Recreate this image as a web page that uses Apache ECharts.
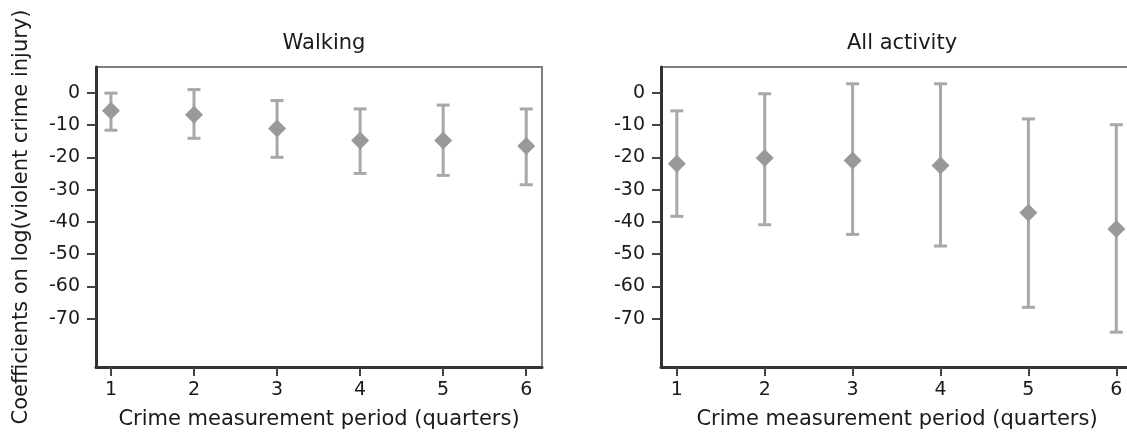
<!DOCTYPE html>
<html>
<head>
<meta charset="utf-8">
<script src="https://cdn.jsdelivr.net/npm/echarts@6/dist/echarts.min.js"></script>
<style>
html,body{margin:0;padding:0;background:#fff;}
#chart{width:1127px;height:436px;}
</style>
</head>
<body>
<div id="chart"></div>
<script>
// ---- data ----
const periods = [1, 2, 3, 4, 5, 6];
const walkCoef = [-5.6, -6.8, -11.1, -14.8, -14.8, -16.5];
const walkLow  = [-11.6, -14.1, -20.0, -25.0, -25.6, -28.5];
const walkHigh = [-0.1, 1.0, -2.4, -5.0, -3.8, -5.0];
const allCoef  = [-22.0, -20.2, -21.0, -22.5, -37.2, -42.2];
const allLow   = [-38.3, -40.9, -43.9, -47.5, -66.5, -74.2];
const allHigh  = [-5.6, -0.3, 2.8, 2.8, -8.1, -9.9];
const yTicks = [0, -10, -20, -30, -40, -50, -60, -70];
const xTicks = [1, 2, 3, 4, 5, 6];
const panelTitles = ['Walking', 'All activity'];
const xTitle = 'Crime measurement period (quarters)';
const yTitle = 'Coefficients on log(violent crime injury)';

const FONT = '"DejaVu Sans", "Liberation Sans", sans-serif';
const TEXT = '#1a1a1a';
const BAR = '#a8a8a8';
const MARK = '#999999';

const chart = echarts.init(document.getElementById('chart'), null, {renderer: 'canvas'});

const grids = [
  {left: 96, top: 67, width: 446, height: 300},
  {left: 661, top: 67, width: 472, height: 300}
];

function xAxisFor(i) {
  return {
    type: 'value', gridIndex: i, min: 0.82, max: 6.19,
    name: xTitle, nameLocation: 'middle', nameGap: 42,
    nameTextStyle: {fontFamily: FONT, fontSize: 21, color: TEXT},
    axisLine: {show: true, onZero: false, lineStyle: {color: '#333', width: 3}},
    axisTick: {show: true, length: 9, customValues: xTicks, lineStyle: {color: '#444', width: 2}},
    axisLabel: {customValues: xTicks, margin: 14, fontFamily: FONT, fontSize: 19, color: TEXT},
    splitLine: {show: false}
  };
}
function yAxisFor(i, withName) {
  return {
    type: 'value', gridIndex: i, min: -85, max: 8,
    name: withName ? yTitle : '', nameLocation: 'middle', nameGap: 64, nameRotate: 90,
    nameTextStyle: {fontFamily: FONT, fontSize: 21, color: TEXT},
    axisLine: {show: true, onZero: false, lineStyle: {color: '#333', width: 3}},
    axisTick: {show: true, length: 9, customValues: yTicks, lineStyle: {color: '#444', width: 2}},
    axisLabel: {customValues: yTicks, margin: 16, fontFamily: FONT, fontSize: 19, color: TEXT},
    splitLine: {show: false}
  };
}

function errorSeries(i, low, high) {
  return {
    type: 'custom', xAxisIndex: i, yAxisIndex: i,
    data: periods.map((p, k) => [p, low[k], high[k]]),
    renderItem: function (params, api) {
      const x = api.value(0);
      const lo = api.coord([x, api.value(1)]);
      const hi = api.coord([x, api.value(2)]);
      const cw = 6.5;
      const style = {stroke: BAR, lineWidth: 3};
      return {
        type: 'group',
        children: [
          {type: 'line', shape: {x1: lo[0], y1: lo[1], x2: hi[0], y2: hi[1]}, style: style},
          {type: 'line', shape: {x1: lo[0] - cw, y1: lo[1], x2: lo[0] + cw, y2: lo[1]}, style: style},
          {type: 'line', shape: {x1: hi[0] - cw, y1: hi[1], x2: hi[0] + cw, y2: hi[1]}, style: style}
        ]
      };
    },
    z: 2, silent: true
  };
}
function pointSeries(i, coef) {
  return {
    type: 'scatter', xAxisIndex: i, yAxisIndex: i,
    data: periods.map((p, k) => [p, coef[k]]),
    symbol: 'diamond', symbolSize: [18, 18],
    itemStyle: {color: MARK, opacity: 1},
    z: 3, silent: true
  };
}

const option = {
  animation: false,
  backgroundColor: '#ffffff',
  title: panelTitles.map((t, i) => ({
    text: t,
    left: grids[i].left + grids[i].width / 2,
    textAlign: 'center',
    top: 28,
    textStyle: {fontFamily: FONT, fontSize: 21, fontWeight: 'normal', color: TEXT}
  })),
  grid: grids.map(g => Object.assign({show: true, borderColor: '#808080', borderWidth: 2,
    backgroundColor: 'transparent', containLabel: false, outerBoundsMode: 'none'}, g)),
  xAxis: [xAxisFor(0), xAxisFor(1)],
  yAxis: [yAxisFor(0, true), yAxisFor(1, false)],
  series: [
    errorSeries(0, walkLow, walkHigh), pointSeries(0, walkCoef),
    errorSeries(1, allLow, allHigh), pointSeries(1, allCoef)
  ]
};
chart.setOption(option);
</script>
</body>
</html>
